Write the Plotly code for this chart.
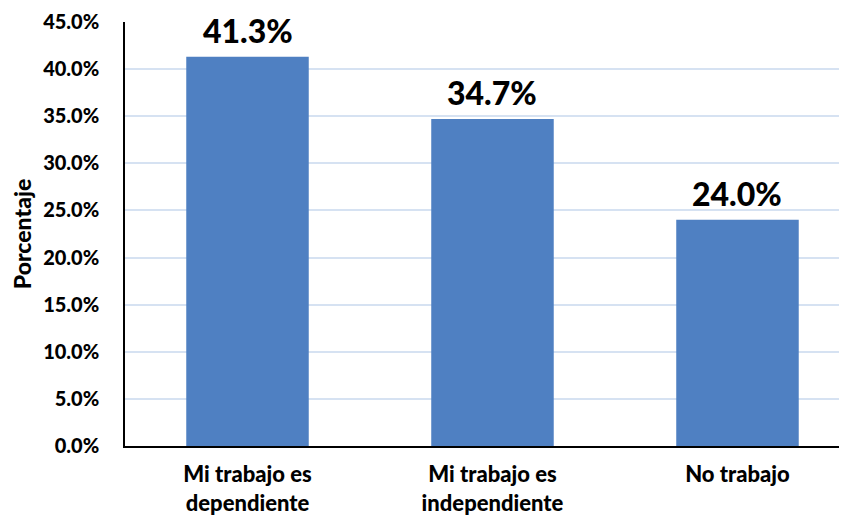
import plotly.graph_objects as go

categories = ["Mi trabajo es<br>dependiente", "Mi trabajo es<br>independiente", "No trabajo"]
values = [0.413, 0.347, 0.240]
tick_vals = [0.0, 0.05, 0.10, 0.15, 0.20, 0.25, 0.30, 0.35, 0.40, 0.45]

FONT = "Lato, 'Open Sans', sans-serif"

fig = go.Figure()
fig.add_trace(
    go.Bar(
        x=categories,
        y=values,
        width=0.5,
        marker=dict(color="#4f80c2", line=dict(width=0)),
        hoverinfo="skip",
    )
)

# value labels above the bars
for cat, val in zip(categories, values):
    fig.add_annotation(
        x=cat,
        y=val,
        text=f"{val * 100:.1f}%",
        showarrow=False,
        yanchor="bottom",
        yshift=6,
        borderpad=0,
        font=dict(family=FONT, size=32, color="black", weight=900),
    )

# page body has an 8px margin, so the figure is sized to fit the window;
# the last category slot runs past the right edge, as in the original
fig.update_layout(
    width=839,
    height=507,
    margin=dict(l=117, r=0, t=14, b=69),
    plot_bgcolor="white",
    paper_bgcolor="white",
    showlegend=False,
    font=dict(family=FONT, color="black"),
    xaxis=dict(
        range=[-0.5, 2.447],
        showgrid=False,
        showline=True,
        linecolor="black",
        linewidth=1.5,
        ticks="",
        tickfont=dict(family=FONT, size=22, color="black", weight=900),
        ticklabelstandoff=8,
    ),
    yaxis=dict(
        range=[0, 0.45],
        tickvals=tick_vals,
        tickformat=".1%",
        showgrid=True,
        gridcolor="#d6e2f2",
        gridwidth=2,
        zeroline=False,
        showline=True,
        linecolor="black",
        linewidth=1.5,
        ticks="",
        tickfont=dict(family=FONT, size=20, color="black", weight=900),
        ticklabelstandoff=20,
        title=dict(
            text="Porcentaje",
            font=dict(family=FONT, size=23, color="black", weight=900),
            standoff=6,
        ),
    ),
)

fig.write_html("out.html")
